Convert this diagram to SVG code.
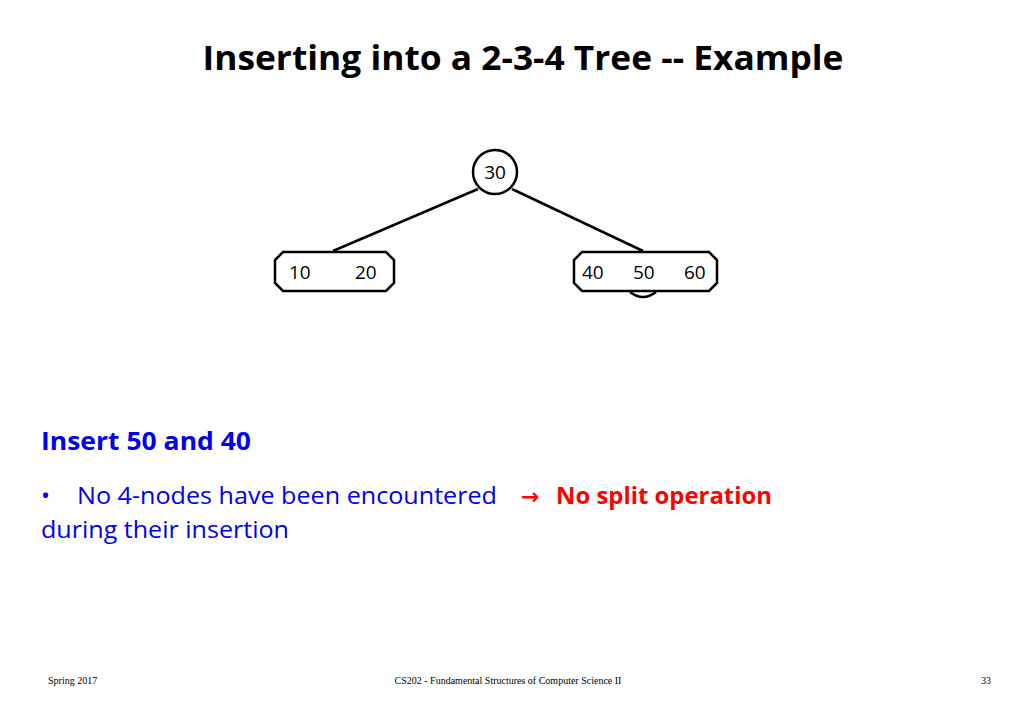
<svg xmlns="http://www.w3.org/2000/svg" width="1024" height="709" viewBox="0 0 1024 709">
<style>
.n{fill:#fff;stroke:#000;stroke-width:2.5}
.k{font-family:"Open Sans","Liberation Sans",sans-serif;font-size:19px;fill:#000}
.e{stroke:#000;stroke-width:2.5;fill:none}
.f{font-family:"Liberation Serif",serif;font-size:10px;fill:#000}
</style>
<rect width="1024" height="709" fill="#fff"/>
<text x="523" y="70" text-anchor="middle" font-family="'Open Sans','Liberation Sans',sans-serif" font-weight="bold" font-size="34" textLength="641" lengthAdjust="spacingAndGlyphs">Inserting into a 2-3-4 Tree -- Example</text>
<g id="connectors">
<line class="e" x1="478" y1="189" x2="333" y2="251"/>
<line class="e" x1="512" y1="189" x2="643" y2="251"/>
<path class="e" d="M630 292 Q643 302 656 292" stroke-width="2"/>
</g>
<g id="n30"><circle class="n" cx="495" cy="172" r="22"/><text class="k" x="495" y="179" text-anchor="middle">30</text></g>
<g id="n1020"><polygon class="n" points="283,252 386,252 394,260 394,283 386,291 283,291 275,283 275,260"/><text class="k" x="289" y="279">10</text><text class="k" x="355" y="279">20</text></g>
<g id="n405060"><polygon class="n" points="582,252 709,252 717,260 717,283 709,291 582,291 574,283 574,260"/><text class="k" x="582" y="279">40</text><text class="k" x="633" y="279">50</text><text class="k" x="684" y="279">60</text></g>
<text x="41" y="450" font-family="'Open Sans','Liberation Sans',sans-serif" font-weight="bold" font-size="25" fill="#0000ee" textLength="210" lengthAdjust="spacingAndGlyphs">Insert 50 and 40</text>
<g font-family="'Open Sans','Liberation Sans',sans-serif" font-size="24" fill="#0000ee">
<text x="41" y="504">•</text>
<text x="77" y="504" textLength="420" lengthAdjust="spacingAndGlyphs">No 4-nodes have been encountered</text>
<text x="41" y="538" textLength="248" lengthAdjust="spacingAndGlyphs">during their insertion</text>
</g>
<text x="521" y="504" font-family="'DejaVu Sans',sans-serif" font-weight="bold" font-size="22" fill="#ff0000">→</text>
<text x="556" y="504" font-family="'Open Sans','Liberation Sans',sans-serif" font-weight="bold" font-size="24" fill="#ff0000" textLength="216" lengthAdjust="spacingAndGlyphs">No split operation</text>
<text class="f" x="48" y="684">Spring 2017</text>
<text class="f" x="508" y="684" text-anchor="middle">CS202 - Fundamental Structures of Computer Science II</text>
<text class="f" x="991" y="684" text-anchor="end">33</text>
</svg>
